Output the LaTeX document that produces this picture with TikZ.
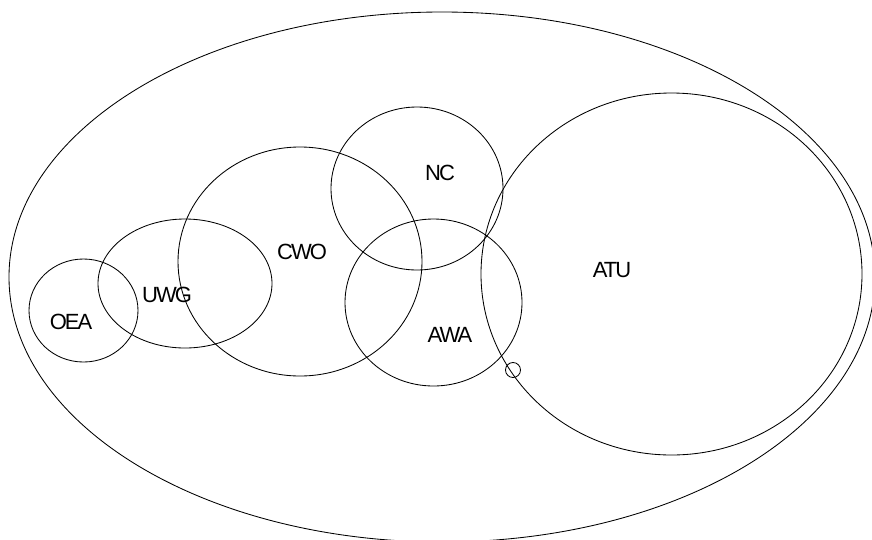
\documentclass[tikz,border=0pt]{standalone}
\usepackage{fontspec}
\setmainfont{Liberation Sans}[LetterSpace=-9]
\usetikzlibrary{shapes.geometric}
\begin{document}
\begin{tikzpicture}[x=1pt,y=-1pt,
  set/.style={draw=black,line width=0.85pt,ellipse,inner sep=0pt},
  lbl/.style={font=\fontsize{22}{22}\selectfont,inner sep=0pt,text=black}]
\useasboundingbox (0,0) rectangle (872,539);
\clip (0,0) rectangle (872,539);
\fill[white] (0,0) rectangle (872,539);
\node[set,minimum width=866pt,minimum height=530pt] (all) at (442,277) {};
\node[set,minimum width=381pt,minimum height=362pt] (atu) at (671.5,274) {};
\node[set,minimum width=172pt,minimum height=163pt] (nc) at (417,188.5) {};
\node[set,minimum width=177pt,minimum height=167pt] (awa) at (433.5,302.5) {};
\node[set,minimum width=244pt,minimum height=229pt] (cwo) at (300,261.5) {};
\node[set,minimum width=174pt,minimum height=129pt] (uwg) at (185,283.5) {};
\node[set,minimum width=109pt,minimum height=103pt] (oea) at (83.5,310.5) {};
\node[draw=black,line width=0.85pt,circle,inner sep=0pt,minimum size=15pt] (dot) at (513,370) {};
\node[lbl] (tnc) at (440,173) {NC};
\node[lbl] (tawa) at (450,335) {AWA};
\node[lbl] (tuwg) at (167,295) {UWG};
\node[lbl] (toea) at (71,322) {OEA};
\node[lbl] (tcwo) at (302,252) {CWO};
\node[lbl] (tatu) at (612,270) {ATU};
\end{tikzpicture}
\end{document}
